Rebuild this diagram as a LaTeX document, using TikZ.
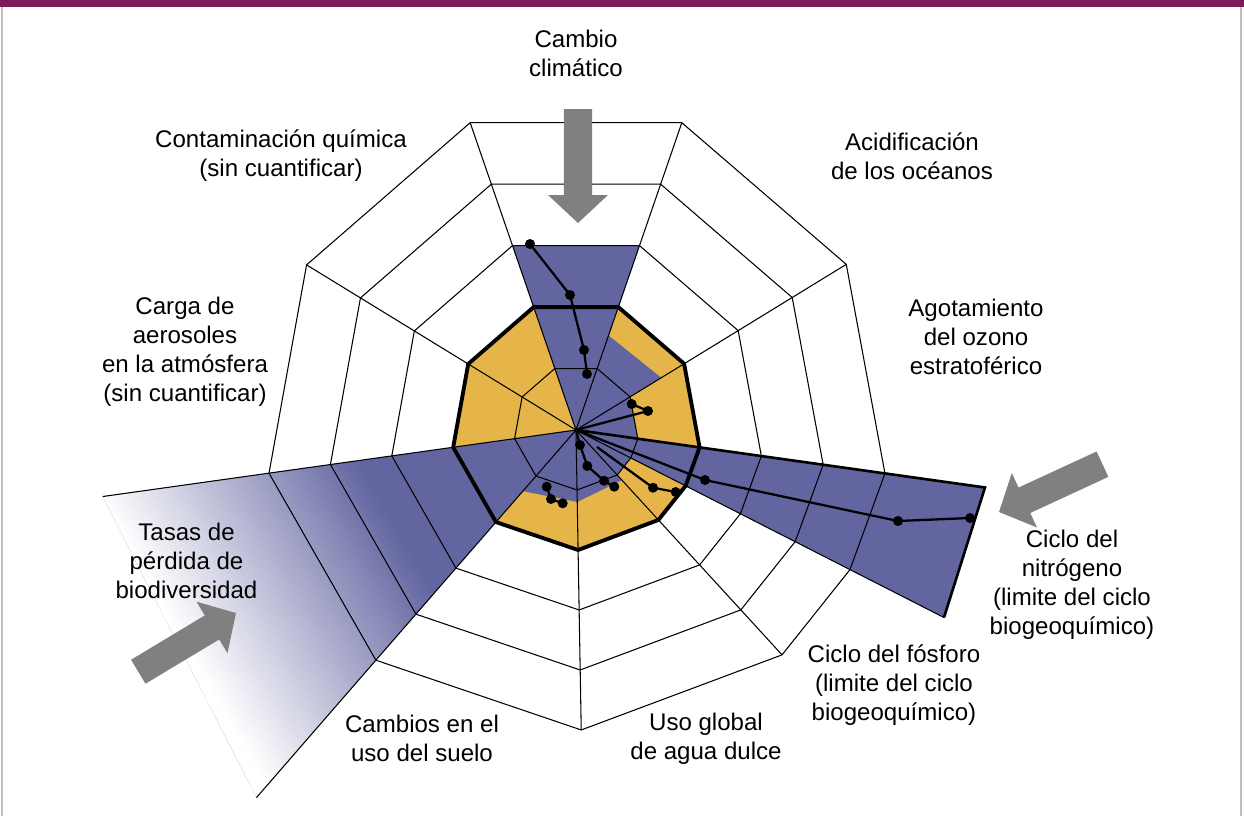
\documentclass[tikz,border=0pt]{standalone}
\usepackage{fontspec}
\setmainfont{Liberation Sans}
\usepackage{tikz}
\usetikzlibrary{calc}
\definecolor{barpurple}{HTML}{7B1B59}
\definecolor{pblue}{HTML}{6365A1}
\definecolor{safeyellow}{HTML}{E6B54A}
\definecolor{arrowgray}{HTML}{808080}
\tikzset{>=stealth}
\newcommand{\bigarrow}[2]{%
  \fill[arrowgray, shift={#1}, rotate=#2] (0,0) -- (-28,30) -- (-28,14) -- (-114,14)
    -- (-114,-14) -- (-28,-14) -- (-28,-30) -- cycle;}

\begin{document}
\begin{tikzpicture}[x=0.02cm, y=0.02cm,
    webline/.style={line width=0.6pt},
    safeline/.style={line width=2.2pt, line join=miter},
    wedgeline/.style={line width=1.5pt, line join=miter},
    dataline/.style={line width=1.3pt},
    lbl/.style={align=center, font=\fontsize{13.7}{16.5}\selectfont, inner sep=0pt}]

    \useasboundingbox (-576,-386) rectangle (668,430);
    \fill[barpurple] (-576,430) rectangle (668,423);
    \draw[gray!50, line width=0.6pt] (-574,423) -- (-574,-386);
    \draw[gray!50, line width=0.6pt] (665,423) -- (665,-386);

    % web points: spoke angle / ring step
    \coordinate (o) at (0,0);
    \foreach \a/\u [count=\k] in {109/65,71/65,31.5/63.4,-8/62.4,-27/61.5,-47.5/61,-89/60,-131/61,-172/62,148.5/63.2}
      \foreach \j in {1,...,5}
        \coordinate (r\j-\k) at (\a:{\j*\u});
    \coordinate (bioA) at (-131:487);
    \coordinate (bioB) at (-172:478);
    \coordinate (nA) at (-8:413);
    \coordinate (nB) at (-27:413);

    % safe zone
    \fill[safeyellow] (r2-1) \foreach \k in {2,...,10}{ -- (r2-\k)} -- cycle;

    % current state
    \fill[pblue] (o) -- (r3-1) -- (r3-2) -- cycle;
    \fill[pblue] (o) -- (71:100) -- (31.5:100) -- cycle;
    \fill[pblue] (o) -- (r1-3) -- (r1-4) -- cycle;
    \fill[pblue] (o) -- (nA) -- (nB) -- cycle;
    \fill[pblue] (o) -- (r1-5) -- (r1-6) -- cycle;
    \fill[pblue] (o) -- (-47.5:68) -- (-89:72) -- cycle;
    \fill[pblue] (o) -- (-89:72) -- (-131:81) -- cycle;
    \begin{scope}
      \clip (o) -- (bioA) -- (bioB) -- cycle;
      \fill[pblue] (o) -- (bioA) -- (bioB) -- cycle;
      \begin{scope}[rotate=30]
        \foreach \s in {-560,-555,...,-210}{
          \pgfmathsetmacro{\pct}{max(0,min(100,(\s+447.5)/240*100))}
          \fill[pblue!\pct!white] (\s,-700) rectangle ({\s+5.4},700);
        }
      \end{scope}
    \end{scope}

    % web
    \foreach \j in {1,...,5}
      \draw[webline] (r\j-1) \foreach \k in {2,...,10}{ -- (r\j-\k)} -- cycle;
    \foreach \k in {1,...,10}
      \draw[webline] (o) -- (r5-\k);
    \draw[webline] (r5-8) -- (bioA);
    \draw[webline] (r5-9) -- (bioB);
    \draw[webline] (r5-5) -- (nB);

    \draw[safeline] (r2-1) \foreach \k in {2,...,10}{ -- (r2-\k)} -- cycle;
    \draw[wedgeline] (o) -- (nA) -- (nB);

    % data
    \coordinate (c1) at (-46,186);
    \coordinate (c2) at (-6,135);
    \coordinate (c3) at (8,80);
    \coordinate (c4) at (11,56);
    \coordinate (z1) at (72,19);
    \coordinate (z2) at (55.7,26);
    \coordinate (n1) at (129,-50);
    \coordinate (n2) at (322,-91);
    \coordinate (n3) at (394,-88);
    \coordinate (p0) at (21,-17);
    \coordinate (p1) at (77,-57.7);
    \coordinate (p2) at (99.7,-62);
    \coordinate (w1) at (4,-15);
    \coordinate (w2) at (11.3,-36);
    \coordinate (w3) at (28,-50.7);
    \coordinate (w4) at (38.3,-56.7);
    \coordinate (l1) at (-29.3,-56.7);
    \coordinate (l2) at (-25,-69);
    \coordinate (l3) at (-13.3,-73.3);
    \draw[dataline] (c1) -- (c2) -- (c3) -- (c4);
    \draw[dataline] (o) -- (z1) -- (z2);
    \draw[dataline] (o) -- (n1) -- (n2) -- (n3);
    \draw[dataline] (p0) -- (p1) -- (p2);
    \draw[dataline] (o) -- (w1) -- (w2) -- (w3) -- (w4);
    \draw[dataline] (l1) -- (l2) -- (l3);
    \foreach \d in {c1,c2,c3,c4,z1,z2,n1,n2,n3,p1,p2,w1,w2,w3,w4,l1,l2,l3}
      \fill (\d) circle (5);

    % arrows
    \coordinate (tipclim) at (2,207);
    \coordinate (tipnit) at (423,-82);
    \coordinate (tipbio) at (-340,-183);
    \bigarrow{(tipclim)}{-90}
    \bigarrow{(tipnit)}{204.8}
    \bigarrow{(tipbio)}{31}

    % labels
    \node[lbl] (clim) at (0,377) {Cambio\\climático};
    \node[lbl] (acid) at (336,273.5) {Acidificación\\de los océanos};
    \node[lbl] (ozone) at (400,93) {Agotamiento\\del ozono\\estratoférico};
    \node[lbl] (nitro) at (496,-154.5) {Ciclo del\\nitrógeno\\(limite del ciclo\\biogeoquímico)};
    \node[lbl] (phos) at (318,-255) {Ciclo del fósforo\\(limite del ciclo\\biogeoquímico)};
    \node[lbl] (water) at (130,-308.5) {Uso global\\de agua dulce};
    \node[lbl] (land) at (-154,-308.5) {Cambios en el\\uso del suelo};
    \node[lbl] (bio) at (-389.5,-131) {Tasas de\\pérdida de\\biodiversidad};
    \node[lbl] (aero) at (-391,78.5) {Carga de\\aerosoles\\en la atmósfera\\(sin cuantificar)};
    \node[lbl] (chem) at (-295,274.5) {Contaminación química\\(sin cuantificar)};
\end{tikzpicture}
\end{document}
